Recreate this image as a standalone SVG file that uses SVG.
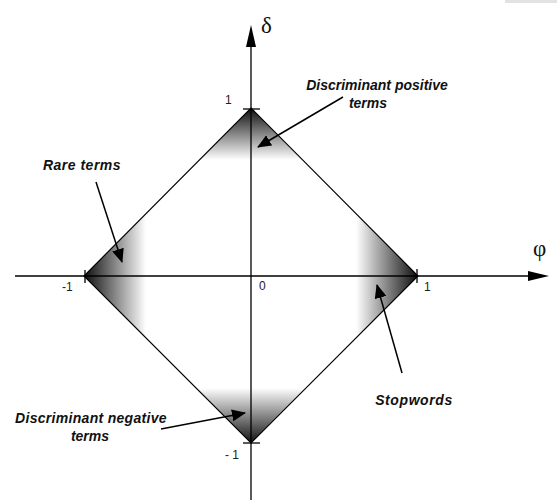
<svg xmlns="http://www.w3.org/2000/svg" width="557" height="500" viewBox="0 0 557 500">
<style>
.ax{stroke:#000;stroke-width:1.3;fill:none}
.ln{stroke:#000;stroke-width:1.5;fill:none}
.lab{font-family:"Liberation Sans",Arial,sans-serif;font-size:14px;font-weight:bold;font-style:italic;fill:#111}
.num{font-family:"Liberation Sans",Arial,sans-serif;font-size:12px;fill:#222}
.gr{font-family:"Liberation Serif","Times New Roman",serif;font-size:23px;fill:#111}
</style>
<defs>
<clipPath id="dia"><polygon points="251,108 418,276 251,443 84,276"/></clipPath>
<linearGradient id="gTop" x1="0" y1="0" x2="0" y2="1"><stop offset="0" stop-color="#0d0d0d"/><stop offset="1" stop-color="#fff"/></linearGradient>
<linearGradient id="gBot" x1="0" y1="1" x2="0" y2="0"><stop offset="0" stop-color="#0d0d0d"/><stop offset="1" stop-color="#fff"/></linearGradient>
<linearGradient id="gLeft" x1="0" y1="0" x2="1" y2="0"><stop offset="0" stop-color="#0d0d0d"/><stop offset="1" stop-color="#fff"/></linearGradient>
<linearGradient id="gRight" x1="1" y1="0" x2="0" y2="0"><stop offset="0" stop-color="#0d0d0d"/><stop offset="1" stop-color="#fff"/></linearGradient>
<marker id="ah" markerWidth="14" markerHeight="12" refX="13" refY="6" orient="auto" markerUnits="userSpaceOnUse"><path d="M0,0 L14,6 L0,12 Z" fill="#000"/></marker>
</defs>
<rect x="0" y="0" width="557" height="500" fill="#fff"/>
<rect x="505" y="0" width="52" height="3" fill="#e2e2e2"/>
<g id="shading" clip-path="url(#dia)">
<rect x="84" y="108" width="334" height="52" fill="url(#gTop)"/>
<rect x="84" y="388" width="334" height="56" fill="url(#gBot)"/>
<rect x="84" y="108" width="62" height="336" fill="url(#gLeft)"/>
<rect x="356" y="108" width="62" height="336" fill="url(#gRight)"/>
</g>
<g id="diamond"><polygon points="251,108 418,276 251,443 84,276" fill="none" stroke="#000" stroke-width="1.2"/></g>
<g id="axes">
<line class="ax" x1="251" y1="500" x2="251" y2="45"/>
<polygon points="251,25 246,47 256,47" fill="#000"/>
<line class="ax" x1="15" y1="276" x2="530" y2="276"/>
<polygon points="549,276 528,271 528,281" fill="#000"/>
<line class="ax" x1="243" y1="109" x2="260" y2="109"/>
<line class="ax" x1="243" y1="443" x2="260" y2="443"/>
<line class="ax" x1="85" y1="270" x2="85" y2="283"/>
<line class="ax" x1="417" y1="269" x2="417" y2="283"/>
<text class="gr" x="261" y="33">δ</text>
<text class="gr" x="533" y="256">φ</text>
<text class="num" x="225" y="104">1</text>
<text class="num" x="62" y="291">-1</text>
<text class="num" x="259" y="290">0</text>
<text class="num" x="424" y="291">1</text>
<text class="num" x="225" y="459">- 1</text>
</g>
<g id="connectors">
<line class="ln" x1="343" y1="97" x2="258" y2="147" marker-end="url(#ah)"/>
<line class="ln" x1="96" y1="182" x2="122" y2="262" marker-end="url(#ah)"/>
<line class="ln" x1="402" y1="373" x2="377" y2="285" marker-end="url(#ah)"/>
<line class="ln" x1="161" y1="429" x2="245" y2="413" marker-end="url(#ah)"/>
</g>
<g id="n-pos"><text class="lab" x="377" y="90" text-anchor="middle">Discriminant positive</text><text class="lab" x="368" y="108" text-anchor="middle">terms</text></g>
<g id="n-rare"><text class="lab" x="82" y="170" text-anchor="middle" letter-spacing="0.5">Rare terms</text></g>
<g id="n-stop"><text class="lab" x="414" y="405" text-anchor="middle" letter-spacing="0.6">Stopwords</text></g>
<g id="n-neg"><text class="lab" x="91" y="423" text-anchor="middle" font-size="15" letter-spacing="0.3">Discriminant negative</text><text class="lab" x="90" y="441" text-anchor="middle" font-size="15">terms</text></g>
</svg>
